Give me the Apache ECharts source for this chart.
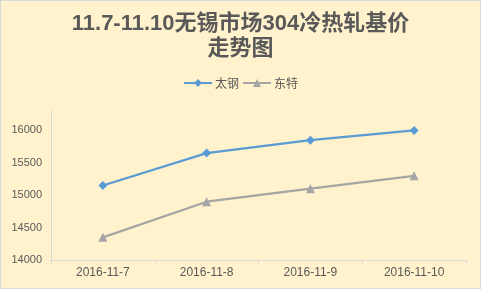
<!DOCTYPE html>
<html><head><meta charset="utf-8">
<script src="https://cdn.jsdelivr.net/npm/echarts@6/dist/echarts.min.js"></script>
<style>html,body{margin:0;padding:0;background:#fff;}#c{width:479px;height:287px;border:1px solid #D9D9D9;}</style>
</head><body><div id="c"></div>
<script>
const categories = ['2016-11-7','2016-11-8','2016-11-9','2016-11-10'];
const taigang = [15150, 15650, 15850, 16000];
const dongte = [14350, 14900, 15100, 15300];
const chart = echarts.init(document.getElementById('c'));
chart.setOption({
  backgroundColor: '#FFF2CC',
  animation: false,
  title: {
    text: '11.7-11.10无锡市场304冷热轧基价\n走势图',
    left: 'center', top: 5,
    textStyle: {fontSize: 22, fontWeight: 'bold', color: '#595959', lineHeight: 25, fontFamily: '"Liberation Sans", "Noto Sans CJK SC", sans-serif'}
  },
  legend: {
    top: 71, left: 'center', itemWidth: 28, itemHeight: 10, itemGap: 3,
    textStyle: {fontSize: 12, color: '#595959', fontFamily: '"Noto Sans CJK SC", sans-serif', padding: [0,0,0,-2]},
    data: ['太钢', '东特']
  },
  grid: {left: 50, right: 14, top: 110, bottom: 28},
  xAxis: {
    type: 'category', data: categories, boundaryGap: true,
    axisLine: {lineStyle: {color: '#D9D9D9'}},
    axisTick: {show: true, length: 4, lineStyle: {color: '#D9D9D9'}},
    axisLabel: {color: '#595959', fontSize: 12, margin: 7, fontFamily: 'Liberation Sans'}
  },
  yAxis: {
    type: 'value', min: 14000, max: 16300, interval: 500,
    axisLine: {show: true, lineStyle: {color: '#D9D9D9'}},
    axisTick: {show: false},
    splitLine: {show: false},
    axisLabel: {color: '#595959', fontSize: 11, margin: 9, showMaxLabel: false, fontFamily: 'Liberation Sans',
      formatter: function (v) { return String(v); }}
  },
  series: [
    {name: '太钢', type: 'line', data: taigang, symbol: 'diamond', symbolSize: 9,
     lineStyle: {width: 2.25, color: '#5B9BD5'}, itemStyle: {color: '#5B9BD5'}},
    {name: '东特', type: 'line', data: dongte, symbol: 'triangle', symbolSize: 9,
     lineStyle: {width: 2.25, color: '#A5A5A5'}, itemStyle: {color: '#A5A5A5'}}
  ]
});
</script></body></html>
